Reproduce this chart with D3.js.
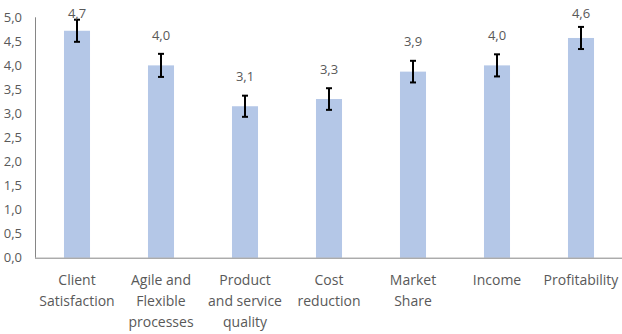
<!DOCTYPE html>
<html><head><meta charset="utf-8">
<script src="https://cdn.jsdelivr.net/npm/d3@7"></script>
<style>body{margin:0;background:#fff}svg{display:block}</style>
</head><body>
<svg id="c" width="622" height="334"></svg>
<script>
const categories = [["Client","Satisfaction"],["Agile and","Flexible","processes"],["Product","and service","quality"],["Cost","reduction"],["Market","Share"],["Income"],["Profitability"]];
const values = [4.72, 4.0, 3.15, 3.3, 3.87, 4.0, 4.57];
const labels = ["4,7","4,0","3,1","3,3","3,9","4,0","4,6"];
const errors = [0.23, 0.24, 0.22, 0.225, 0.225, 0.23, 0.23];
const yTicks = [0,0.5,1,1.5,2,2.5,3,3.5,4,4.5,5];

const svg = d3.select("#c");
const font = "'Open Sans', sans-serif";
const x = d3.scaleBand().domain(d3.range(categories.length)).range([35, 623]).paddingInner(0.69).paddingOuter(0.345);
const y = d3.scaleLinear().domain([0,5]).range([257.7, 17.3]);

// bars
svg.selectAll("rect.bar").data(values).join("rect")
  .attr("x",(d,i)=>x(i)).attr("width",x.bandwidth())
  .attr("y",d=>y(d)).attr("height",d=>y(0)-y(d)).attr("fill","#b4c7e7");

// axes
svg.append("line").attr("x1",35.5).attr("x2",35.5).attr("y1",y(5)).attr("y2",y(0)).attr("stroke","#868686");
svg.append("line").attr("x1",35).attr("x2",622).attr("y1",y(0)+0.5).attr("y2",y(0)+0.5).attr("stroke","#868686");

svg.selectAll("text.yt").data(yTicks).join("text")
  .attr("x",22).attr("y",d=>y(d)).attr("dy","0.35em").attr("text-anchor","end")
  .attr("font-family",font).attr("font-size",13).attr("fill","#595959")
  .text(d=>d.toFixed(1).replace(".",","));

// error bars
const cx = i => x(i)+x.bandwidth()/2;
const eg = svg.append("g").attr("stroke","#000").attr("stroke-width",2);
values.forEach((v,i)=>{
  eg.append("line").attr("x1",cx(i)).attr("x2",cx(i)).attr("y1",y(v+errors[i])).attr("y2",y(v-errors[i]));
  eg.append("line").attr("x1",cx(i)-3).attr("x2",cx(i)+3).attr("y1",y(v+errors[i])).attr("y2",y(v+errors[i]));
  eg.append("line").attr("x1",cx(i)-3).attr("x2",cx(i)+3).attr("y1",y(v-errors[i])).attr("y2",y(v-errors[i]));
});

// value labels
svg.selectAll("text.vl").data(values).join("text")
  .attr("x",(d,i)=>cx(i)).attr("y",d=>Math.max(y(d)-30,13.5)).attr("dy","0.35em")
  .attr("text-anchor","middle").attr("font-family",font).attr("font-size",13).attr("fill","#595959")
  .text((d,i)=>labels[i]);

// category labels
categories.forEach((lines,i)=>{
  const t = svg.append("text").attr("text-anchor","middle").attr("font-family",font).attr("font-size",14).attr("fill","#595959");
  lines.forEach((l,j)=>{
    t.append("tspan").attr("x",cx(i)).attr("y",280+j*20.8).attr("dy","0.35em").text(l);
  });
});
</script>
</body></html>
